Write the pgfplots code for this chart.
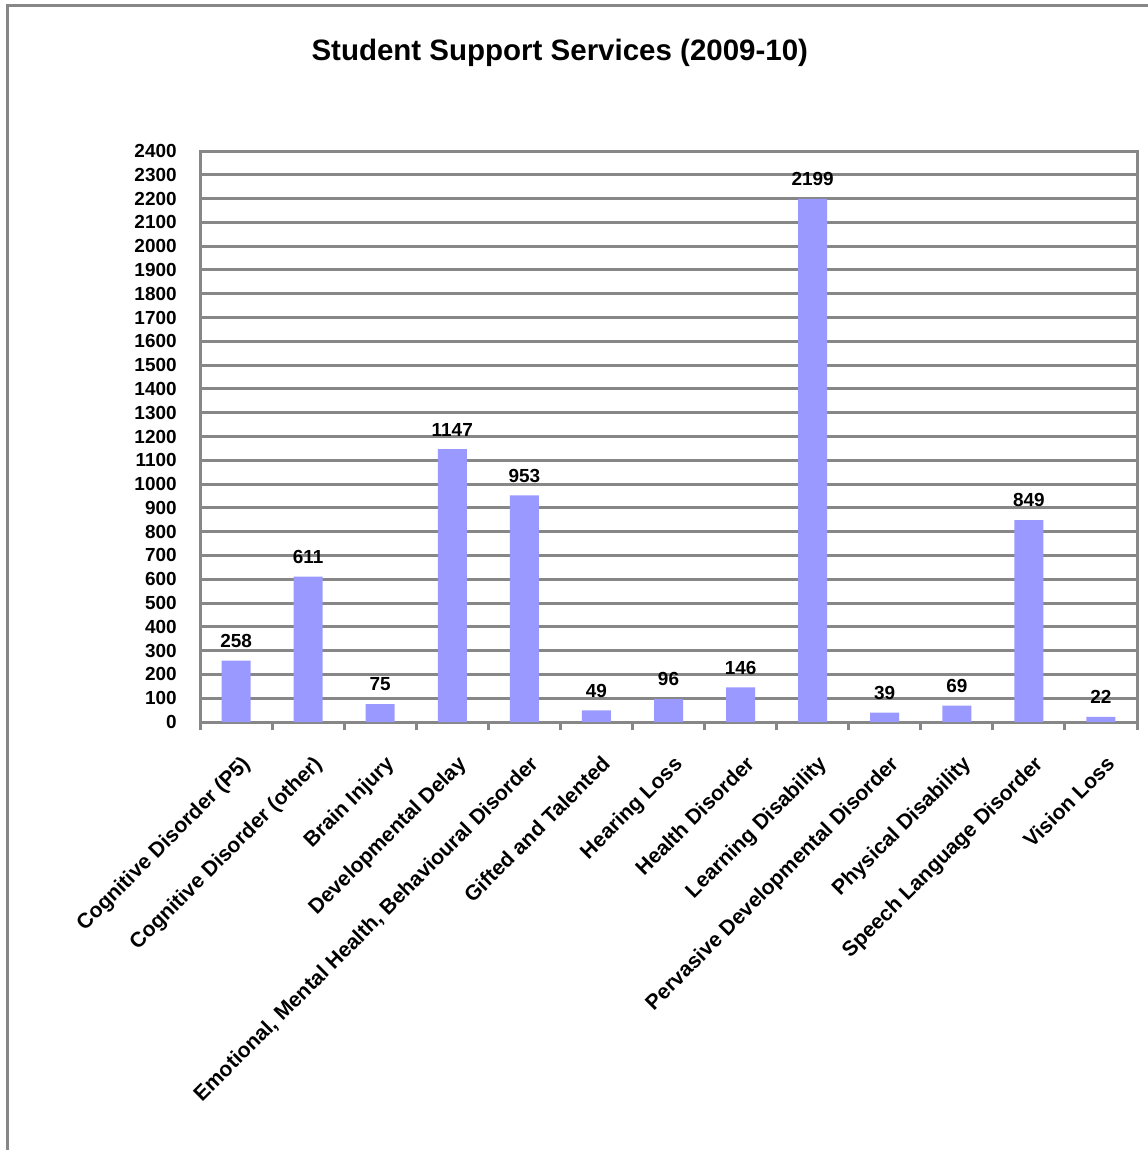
\documentclass[border=0pt]{standalone}
\usepackage{fontspec}
\setmainfont{Liberation Sans}
\usepackage{pgfplots}
\pgfplotsset{compat=1.18}
\definecolor{gridgray}{HTML}{878787}
\definecolor{barblue}{HTML}{9999FF}

\begin{document}
\begin{tikzpicture}
\useasboundingbox (0,0) rectangle (574bp,-575bp);
% chart frame (top and left edges only are visible)
\draw[gridgray, line width=1.5bp] (3.5bp,-575bp) -- (3.5bp,-2.5bp) -- (574bp,-2.5bp);
\begin{axis}[
  at={(100bp,-361bp)}, anchor=south west,
  scale only axis,
  width=468.5bp, height=285.5bp,
  clip=false,
  ybar, bar width=14.5bp,
  xmin=-0.5, xmax=12.5,
  ymin=0, ymax=2400,
  ytick distance=100,
  ymajorgrids,
  grid style={gridgray, line width=1.5bp},
  axis line style={gridgray, line width=1.5bp},
  xtick pos=bottom, ytick pos=left,
  ytick style={draw=none},
  major tick length=0pt,
  xtick={0,...,12},
  xticklabels={Cognitive Disorder (P5), Cognitive Disorder (other), Brain Injury,
    Developmental Delay, {Emotional, Mental Health, Behavioural Disorder},
    Gifted and Talented, Hearing Loss, Health Disorder, Learning Disability,
    Pervasive Developmental Disorder, Physical Disability,
    Speech Language Disorder, Vision Loss},
  xticklabel style={font=\fontsize{10.6}{12}\selectfont\bfseries, inner sep=0pt,
    xshift=2bp, yshift=-16bp, rotate=45, anchor=north east},
  yticklabel style={font=\fontsize{9.5}{11}\selectfont\bfseries, inner sep=0pt,
    anchor=east, xshift=-11.5bp},
  extra x ticks={-0.5,0.5,...,12.5},
  extra x tick labels={},
  extra x tick style={tick align=outside, major tick length=4bp,
    tick style={gridgray, line width=1.5bp}},
  /pgf/number format/assume math mode=true,
  /pgf/number format/1000 sep={},
  nodes near coords,
  every node near coord/.append style={font=\fontsize{9.5}{11}\selectfont\bfseries,
    text=black, yshift=3bp},
  title={Student Support Services (2009-10)},
  title style={at={(0.384,1.151)}, anchor=center,
    font=\fontsize{14.8}{17}\selectfont\bfseries},
]
\addplot[fill=barblue, draw=none] coordinates {
  (0,258) (1,611) (2,75) (3,1147) (4,953) (5,49) (6,96)
  (7,146) (8,2199) (9,39) (10,69) (11,849) (12,22)
};
\end{axis}
\end{tikzpicture}
\end{document}
